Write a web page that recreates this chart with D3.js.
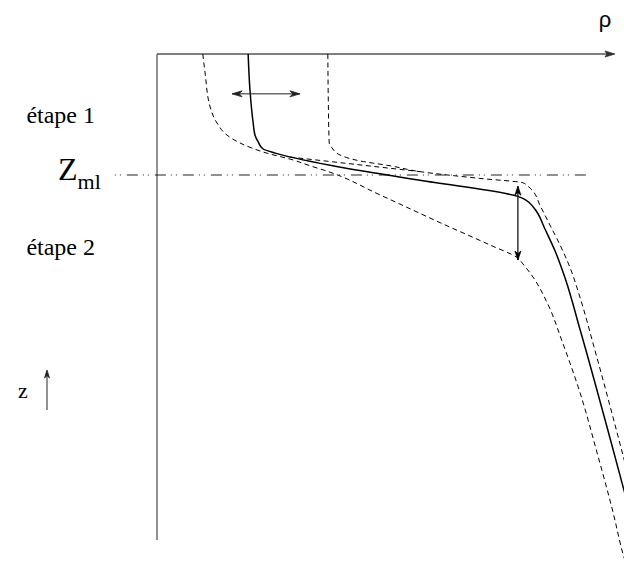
<!DOCTYPE html>
<html><head><meta charset="utf-8">
<script src="https://cdn.jsdelivr.net/npm/d3@7"></script>
<style>html,body{margin:0;padding:0;background:#fff;}svg{display:block;}</style>
</head><body>
<script>
// ---- data (ρ in arbitrary units 0..100, depth 0..100) ----
const solidRho   = [19.9, 20.3, 21.0, 21.4, 22.1, 23.1, 25.8, 37.8, 57.4, 78.8, 80.1, 81.4, 82.8, 84.7, 86.9, 89.1, 92.4, 102.0, 103.7];
const solidDepth = [0,    7.4,  14.2, 16.7, 18.1, 19.5, 20.4, 22.9, 26.0, 29.3, 29.8, 30.7, 32.3, 36.0, 40.5, 46.1, 56.8, 89.9,  95.9];

const leftRho    = [10.0, 10.5, 11.6, 13.1, 15.3, 18.1, 24.0, 29.7, 33.4, 37.1, 48.7, 61.8, 72.7, 78.8, 79.9, 82.1, 85.2, 88.6, 92.4, 96.1, 99.6, 101.7, 102.8];
const leftDepth  = [0,    3.9,  10.9, 14.2, 16.7, 18.3, 20.4, 21.8, 23.0, 24.1, 29.0, 34.7, 39.3, 42.0, 43.2, 45.9, 51.2, 59.5, 69.8, 82.1, 94.4, 102.7, 106.2];

const rightRho   = [37.3, 37.4, 37.6, 38.2, 40.0, 44.3, 50.9, 57.4, 70.5, 79.9, 81.0, 81.9, 83.6, 85.8, 88.0, 90.2, 92.4, 95.6, 102.0, 103.7];
const rightDepth = [0,    9.5,  18.3, 19.3, 20.8, 22.0, 23.0, 24.2, 25.6, 26.5, 27.2, 28.0, 31.1, 35.2, 39.3, 44.0, 50.2, 60.9, 83.5,  89.7];

const upperRho   = [29.0, 57.4];
const upperDepth = [21.2, 24.2];

const zmlDepth = 24.9;
const zmlRho = [-9.2, 93.9];

const hArrowRho = [16.4, 31.2];  const hArrowDepth = 8.2;
const vArrowRho = 78.8;          const vArrowDepth = [27.2, 42.4];

const labels = ["étape 1", "étape 2", "Z", "ml", "z", "ρ"];

// ---- drawing ----
const W = 624, H = 569;
const svg = d3.select("body").append("svg").attr("width", W).attr("height", H);
const x = d3.scaleLinear().domain([0, 100]).range([157, 615]);
const y = d3.scaleLinear().domain([0, 100]).range([54, 540]);

const line = d3.line().x(d => x(d[0])).y(d => y(d[1])).curve(d3.curveMonotoneY);
const zip = (a, b) => a.map((v, i) => [v, b[i]]);

// axes
const axisColor = "#555";
svg.append("line").attr("x1", x(0)).attr("y1", y(0)).attr("x2", x(0)).attr("y2", y(100))
  .attr("stroke", axisColor).attr("stroke-width", 1.3);
svg.append("line").attr("x1", x(0)).attr("y1", y(0)).attr("x2", x(100) - 4).attr("y2", y(0))
  .attr("stroke", axisColor).attr("stroke-width", 1.3);
svg.append("path")
  .attr("d", `M${x(100)},${y(0)} L${x(100) - 10},${y(0) - 3} L${x(100) - 8},${y(0)} L${x(100) - 10},${y(0) + 3} Z`)
  .attr("fill", "#333").attr("stroke", "#333").attr("stroke-width", 0.8);

// Zml dash-dot line
svg.append("line").attr("x1", x(zmlRho[0])).attr("x2", x(zmlRho[1]))
  .attr("y1", y(zmlDepth)).attr("y2", y(zmlDepth))
  .attr("stroke", "#222").attr("stroke-width", 1.1)
  .attr("stroke-dasharray", "1,4,1,6,11,5");

// curves
const dash = "5,3.5";
svg.append("path").attr("d", line(zip(leftRho, leftDepth))).attr("fill", "none")
  .attr("stroke", "#000").attr("stroke-width", 1).attr("stroke-dasharray", dash);
svg.append("path").attr("d", line(zip(rightRho, rightDepth))).attr("fill", "none")
  .attr("stroke", "#000").attr("stroke-width", 1).attr("stroke-dasharray", dash);
svg.append("path").attr("d", line(zip(upperRho, upperDepth))).attr("fill", "none")
  .attr("stroke", "#000").attr("stroke-width", 1).attr("stroke-dasharray", dash);
svg.append("path").attr("d", line(zip(solidRho, solidDepth))).attr("fill", "none")
  .attr("stroke", "#000").attr("stroke-width", 1.5);

// arrow helper: head at (tx,ty) pointing in direction (dx,dy)
function head(tx, ty, dx, dy, len, hw, color) {
  const n = Math.hypot(dx, dy); const ux = dx / n, uy = dy / n;
  const bx = tx - ux * len, by = ty - uy * len;
  const px = -uy * hw, py = ux * hw;
  svg.append("path")
    .attr("d", `M${bx + px},${by + py} L${tx},${ty} L${bx - px},${by - py} L${tx - ux * len * 0.7},${ty - uy * len * 0.7} Z`)
    .attr("fill", color).attr("stroke", color).attr("stroke-width", 0.8).attr("stroke-linejoin", "miter");
}

// horizontal double arrow
const ha = { x1: x(hArrowRho[0]), x2: x(hArrowRho[1]), y: y(hArrowDepth) };
svg.append("line").attr("x1", ha.x1).attr("x2", ha.x2).attr("y1", ha.y).attr("y2", ha.y)
  .attr("stroke", "#222").attr("stroke-width", 1);
head(ha.x1, ha.y, -1, 0, 10, 3, "#222");
head(ha.x2, ha.y, 1, 0, 10, 3, "#222");

// vertical double arrow
const va = { x: x(vArrowRho), y1: y(vArrowDepth[0]), y2: y(vArrowDepth[1]) };
svg.append("line").attr("x1", va.x).attr("x2", va.x).attr("y1", va.y1).attr("y2", va.y2)
  .attr("stroke", "#000").attr("stroke-width", 1.2);
head(va.x, va.y1, 0, -1, 9, 3, "#000");
head(va.x, va.y2, 0, 1, 9, 3, "#000");

// z arrow
svg.append("line").attr("x1", 47).attr("x2", 47).attr("y1", 410).attr("y2", 373)
  .attr("stroke", "#555").attr("stroke-width", 1.3);
head(47, 370, 0, -1, 8, 2.5, "#222");

// labels
const serif = "'Liberation Serif', 'Times New Roman', serif";
svg.append("text").attr("x", 95).attr("y", 123).attr("text-anchor", "end")
  .attr("font-family", serif).attr("font-size", 24).text(labels[0]);
svg.append("text").attr("x", 95).attr("y", 255).attr("text-anchor", "end")
  .attr("font-family", serif).attr("font-size", 24).text(labels[1]);
const zt = svg.append("text").attr("x", 58).attr("y", 180).attr("font-family", serif);
zt.append("tspan").attr("font-size", 32).text(labels[2]);
zt.append("tspan").attr("font-size", 22).attr("dy", 9).text(labels[3]);
svg.append("text").attr("x", 18).attr("y", 398).attr("font-family", serif)
  .attr("font-size", 22).text(labels[4]);
svg.append("text").attr("x", 605).attr("y", 27).attr("text-anchor", "middle")
  .attr("font-family", "'Liberation Sans', Arial, sans-serif").attr("font-size", 22).text(labels[5]);
</script>
</body></html>
